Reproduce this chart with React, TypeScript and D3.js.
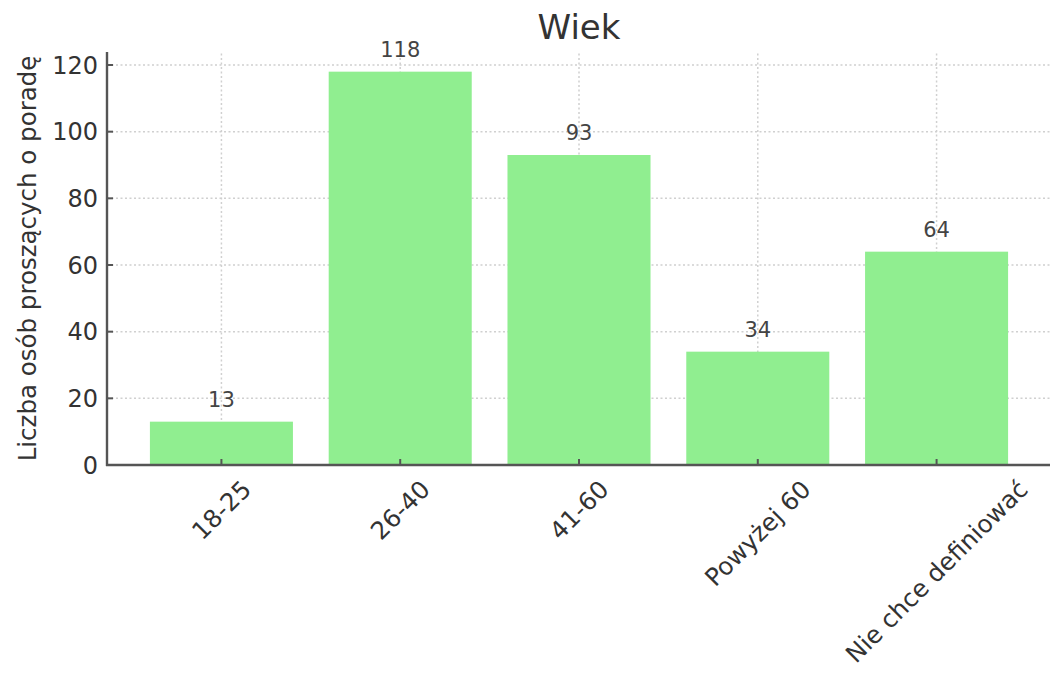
import React, { useEffect, useRef } from "react";
import * as d3 from "d3";

const categories = ["18-25", "26-40", "41-60", "Powyżej 60", "Nie chce definiować"];
const values = [13, 118, 93, 34, 64];
const yTicks = [0, 20, 40, 60, 80, 100, 120];
const title = "Wiek";
const yLabel = "Liczba osób proszących o poradę";

const W = 1050;
const H = 675;
const M = { left: 107, right: 0, top: 52, bottom: 210 };
const FONT = "DejaVu Sans, sans-serif";

export default function App() {
  const ref = useRef<SVGSVGElement>(null);

  useEffect(() => {
    const svg = d3.select(ref.current);
    svg.selectAll("*").remove();
    const x0 = M.left;
    const x1 = W - M.right + 1;
    const y0 = H - M.bottom;
    const y1 = M.top;

    const n = categories.length;
    const x = d3.scaleLinear().domain([-0.64, n - 1 + 0.64]).range([x0, x1]);
    const y = d3.scaleLinear().domain([0, 123.9]).range([y0, y1]);
    const bw = x(0.8) - x(0);

    const g = svg.append("g");

    // grid
    g.selectAll(".gy").data(yTicks).join("line")
      .attr("x1", x0).attr("x2", x1)
      .attr("y1", (d) => y(d)).attr("y2", (d) => y(d))
      .attr("stroke", "#d0d0d0").attr("stroke-width", 1.5).attr("stroke-dasharray", "2,2.5");
    g.selectAll(".gx").data(categories).join("line")
      .attr("x1", (_, i) => x(i)).attr("x2", (_, i) => x(i))
      .attr("y1", y0).attr("y2", y1)
      .attr("stroke", "#d0d0d0").attr("stroke-width", 1.5).attr("stroke-dasharray", "2,2.5");

    // bars
    g.selectAll(".bar").data(values).join("rect")
      .attr("x", (_, i) => x(i) - bw / 2)
      .attr("width", bw)
      .attr("y", (d) => y(d))
      .attr("height", (d) => y0 - y(d))
      .attr("fill", "#90ee90");

    // bar labels
    g.selectAll(".bl").data(values).join("text")
      .attr("x", (_, i) => x(i))
      .attr("y", (d) => y(d) - 15)
      .attr("text-anchor", "middle")
      .attr("font-family", FONT)
      .attr("font-size", 21)
      .attr("fill", "#444")
      .text((d) => String(d));

    // spines
    g.append("line").attr("x1", x0).attr("x2", x0).attr("y1", y1).attr("y2", y0 + 1)
      .attr("stroke", "#555").attr("stroke-width", 2.4);
    g.append("line").attr("x1", x0 - 1).attr("x2", x1).attr("y1", y0).attr("y2", y0)
      .attr("stroke", "#555").attr("stroke-width", 2.4);

    // y ticks
    g.selectAll(".yt").data(yTicks).join("line")
      .attr("x1", x0).attr("x2", x0 + 6)
      .attr("y1", (d) => y(d)).attr("y2", (d) => y(d))
      .attr("stroke", "#555").attr("stroke-width", 2);
    g.selectAll(".ytl").data(yTicks).join("text")
      .attr("x", x0 - 9)
      .attr("y", (d) => y(d))
      .attr("dy", "0.36em")
      .attr("text-anchor", "end")
      .attr("font-family", FONT)
      .attr("font-size", 24)
      .attr("fill", "#333")
      .text((d) => String(d));

    // x ticks
    g.selectAll(".xt").data(categories).join("line")
      .attr("x1", (_, i) => x(i)).attr("x2", (_, i) => x(i))
      .attr("y1", y0).attr("y2", y0 - 6)
      .attr("stroke", "#555").attr("stroke-width", 2);

    const fs = 24.5;
    const xl = g.selectAll(".xtl").data(categories).join("text")
      .attr("text-anchor", "middle")
      .attr("font-family", FONT)
      .attr("font-size", fs)
      .attr("fill", "#333")
      .text((d) => d);
    xl.each(function (_, i) {
      const el = this as SVGTextElement;
      const L = el.getComputedTextLength();
      const h = fs * 0.9;
      const half = (L + h) / (2 * Math.SQRT2);
      const cx = x(i);
      const cy = y0 + 12 + half;
      d3.select(el)
        .attr("x", 0).attr("y", 0).attr("dy", "0.35em")
        .attr("transform", `translate(${cx},${cy}) rotate(-45)`);
    });

    // title
    svg.append("text")
      .attr("x", (x0 + x1) / 2).attr("y", 39)
      .attr("text-anchor", "middle")
      .attr("font-family", FONT)
      .attr("font-size", 34)
      .attr("fill", "#333")
      .text(title);

    // y label
    svg.append("text")
      .attr("transform", `translate(36,${(y0 + y1) / 2 + 0}) rotate(-90)`)
      .attr("text-anchor", "middle")
      .attr("font-family", FONT)
      .attr("font-size", 24.5)
      .attr("fill", "#333")
      .text(yLabel);
  }, []);

  return (
    <svg
      ref={ref}
      width={W}
      height={H}
      style={{ position: "absolute", left: 0, top: 0, background: "#fff" }}
    />
  );
}
